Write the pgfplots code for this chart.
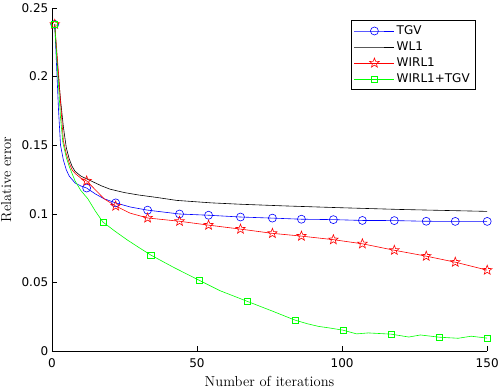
\documentclass[border=0pt]{standalone}
\usepackage{fontspec}
\usepackage{pgfplots}
\pgfplotsset{compat=1.18}
\newfontfamily\djv{DejaVu Sans}

% outlined five-pointed star, like MATLAB's pentagram marker
\pgfdeclareplotmark{pentagram}{%
  \pgfpathmoveto{\pgfpointpolar{90}{\pgfplotmarksize}}%
  \pgfpathlineto{\pgfpointpolar{126}{0.42\pgfplotmarksize}}%
  \pgfpathlineto{\pgfpointpolar{162}{\pgfplotmarksize}}%
  \pgfpathlineto{\pgfpointpolar{198}{0.42\pgfplotmarksize}}%
  \pgfpathlineto{\pgfpointpolar{234}{\pgfplotmarksize}}%
  \pgfpathlineto{\pgfpointpolar{270}{0.42\pgfplotmarksize}}%
  \pgfpathlineto{\pgfpointpolar{306}{\pgfplotmarksize}}%
  \pgfpathlineto{\pgfpointpolar{342}{0.42\pgfplotmarksize}}%
  \pgfpathlineto{\pgfpointpolar{18}{\pgfplotmarksize}}%
  \pgfpathlineto{\pgfpointpolar{54}{0.42\pgfplotmarksize}}%
  \pgfpathclose
  \pgfusepathqstroke
}

\begin{document}
\begin{tikzpicture}
\begin{axis}[
    scale only axis,
    width=435pt, height=343pt,
    xmin=0, xmax=150, ymin=0, ymax=0.25,
    axis lines=left,
    axis line style={-, line width=0.6pt},
    tick align=inside,
    major tick length=5pt,
    tick style={line width=0.6pt, black},
    xtick={0,50,100,150},
    ytick={0,0.05,0.1,0.15,0.2,0.25},
    scaled y ticks=false,
    yticklabel style={/pgf/number format/fixed, /pgf/number format/precision=2},
    /pgf/number format/assume math mode=true,
    ticklabel style={font=\djv\fontsize{12}{14}\selectfont},
    xticklabel style={yshift=-4pt},
    xlabel={Number of iterations},
    ylabel={Relative error},
    label style={font=\fontsize{14.5}{16}\selectfont, inner sep=1pt},
    xlabel style={at={(axis description cs:0.5,-0.102)}, anchor=base, inner ysep=3.5pt},
    ylabel style={at={(axis description cs:-0.0936,0.5)}, anchor=base},
    legend style={at={(0.972,0.964)}, anchor=north east, draw=black,
      line width=0.5pt, font=\djv\fontsize{12}{14}\selectfont,
      inner xsep=3pt, inner ysep=2.5pt, row sep=0pt,
      nodes={inner xsep=2pt, inner ysep=1.75pt, text height=9.5pt, text depth=3pt}},
    legend cell align=left,
    legend image code/.code={%
      \draw[#1, mark indices={2}] plot coordinates {(0pt,0pt) (20pt,0pt) (40pt,0pt)};},
    every axis plot/.append style={line width=0.6pt},
]
% TGV
\addplot[blue, mark=o, mark size=4pt, mark options={solid, fill=none},
    mark indices={1,10,13,15,16,17,18,19,20,21,22,23,24,25,26}]
  coordinates {
  (1,0.238) (1.8,0.200) (2.3,0.176) (3,0.150) (4,0.139) (5,0.132)
  (6,0.1275) (8,0.1225) (10,0.1203) (12,0.1188) (15,0.1145) (18,0.1110)
  (22,0.1080) (27,0.1050) (33,0.1027) (44,0.0999) (54,0.0990) (65,0.0977)
  (76,0.0969) (86,0.0961) (97,0.0958) (107,0.0952) (118,0.0951)
  (129,0.0946) (139,0.0945) (150,0.0945)
  };
\addlegendentry{TGV}
% WL1
\addplot[black, mark=none]
  coordinates {
  (1,0.238) (2,0.207) (3,0.183) (4,0.163) (5,0.148) (6,0.140) (7,0.1345)
  (8,0.1310) (10,0.1275) (12,0.1255) (14,0.1235) (17,0.1205) (20,0.1180)
  (25,0.1155) (30,0.1137) (36,0.1120) (43,0.1098) (55,0.1080) (65,0.1070)
  (80,0.1058) (99,0.1045) (120,0.1032) (150,0.1018)
  };
\addlegendentry{WL1}
% WIRL1
\addplot[red, mark=pentagram, mark size=5pt, mark options={solid, fill=none},
    mark indices={1,10,13,15,16,17,18,19,20,21,22,23,24,25,26}]
  coordinates {
  (1,0.238) (2.4,0.200) (3,0.181) (4,0.153) (5,0.1435) (6,0.137) (7,0.132)
  (8,0.1295) (10,0.126) (12,0.124) (15,0.1175) (18,0.111) (22,0.1057)
  (27,0.1005) (33,0.0970) (44,0.0946) (54,0.0918) (65,0.0889) (76,0.0858)
  (86,0.0838) (97,0.0812) (107,0.0782) (118,0.0735) (129,0.0692)
  (139,0.0648) (150,0.0590)
  };
\addlegendentry{WIRL1}
% WIRL1+TGV
\addplot[green, mark=square, mark size=3pt, mark options={solid, fill=none},
    mark indices={1,11,15,17,19,21,25,28,31,34}]
  coordinates {
  (1,0.238) (2.1,0.200) (3,0.170) (3.8,0.152) (5,0.141) (6.1,0.134)
  (8,0.124) (10,0.117) (12.4,0.111) (15,0.102) (17.6,0.094) (22,0.087)
  (26,0.081) (30,0.0755) (34.1,0.070) (42,0.061) (50.7,0.0517) (58,0.044)
  (67.2,0.0364) (75,0.030) (83.8,0.0226) (88,0.0200) (92,0.0180)
  (96,0.0168) (100.3,0.0153) (105,0.0126) (109,0.0133) (116.9,0.0124)
  (123,0.0103) (127,0.0118) (133.4,0.0102) (140,0.0094) (144.5,0.0109)
  (150,0.0095)
  };
\addlegendentry{WIRL1+TGV}
\end{axis}
\end{tikzpicture}
\end{document}
